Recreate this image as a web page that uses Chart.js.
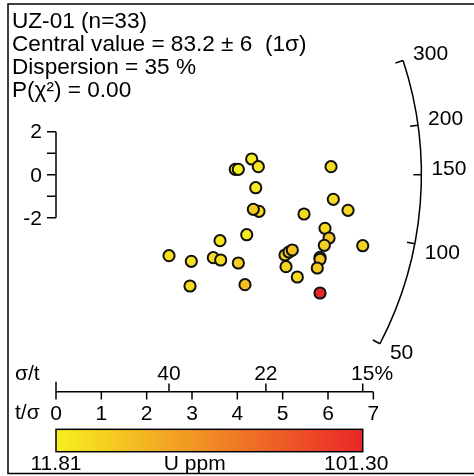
<!DOCTYPE html>
<html>
<head>
<meta charset="utf-8">
<script src="https://cdn.jsdelivr.net/npm/chart.js@4.4.1/dist/chart.umd.min.js"></script>
<style>
  html, body { margin: 0; padding: 0; background: #fff; }
  canvas { display: block; }
</style>
</head>
<body>
<canvas id="c" width="474" height="476"></canvas>
<script>
// ---- data ----
const TITLE_LINES = ['UZ-01 (n=33)', 'Central value = 83.2 \u00b1 6  (1\u03c3)', 'Dispersion = 35 %', 'P(\u03c7\u00b2) = 0.00'];
// precision t/sigma (x) and standardised estimate (y)
const T_SIGMA = [4.317, 4.463, 3.955, 4.022, 4.406, 4.478, 4.353, 4.207, 3.618, 2.493, 2.985, 3.470, 3.633, 4.022, 2.956, 4.169,
                 6.067, 6.117, 6.442, 5.471, 5.934, 6.023, 5.919, 6.766, 5.052, 5.140, 5.213, 5.824, 5.824, 5.764, 5.074, 5.323, 5.824];
const Z_STD   = [0.729, 0.372, 0.251, 0.251, -0.604, -1.700, -1.607, -2.787, -3.065, -3.762, -4.022, -3.855, -3.962, -4.101, -5.169, -5.109,
                 0.372, -1.143, -1.653, -1.825, -2.490, -2.940, -3.279, -3.298, -3.730, -3.590, -3.497, -3.837, -3.929, -4.333, -4.273, -4.751, -5.495];
const U_PPM   = [14, 16, 13, 11.81, 15, 20, 30, 15, 17, 20, 20, 22, 21, 26, 21, 33,
                 22, 21, 23, 22, 21, 32, 25, 24, 27, 28, 33, 24, 32, 29, 24, 22, 101.30];
const U_MIN = 11.81, U_MAX = 101.30;
const U_LABEL = 'U ppm';
const T_TICKS = [0, 1, 2, 3, 4, 5, 6, 7];
const Y_TICKS = [-2, -1, 0, 1, 2];
const Y_LABELS = [-2, 0, 2];
const ARC_TICKS = [300, 200, 150, 100, 50];
const REF_VALUE = 150;   // value whose radial line is horizontal

// ---- layout constants ----
const ARC_RADIUS = 8.06;      // in t/sigma units
const AXIS_Y_VALUE = -10.08;  // y-value where the bottom axis is drawn
const FONT = '"Liberation Sans", Arial, Helvetica, sans-serif';
const C0 = [247, 240, 32], C1 = [234, 38, 40];

function ramp(t) {
  t = Math.max(0, Math.min(1, t));
  const c = C0.map((v, i) => Math.round(v + (C1[i] - v) * t));
  return `rgb(${c[0]},${c[1]},${c[2]})`;
}
const pointColors = U_PPM.map(u => ramp((u - U_MIN) / (U_MAX - U_MIN)));
const points = T_SIGMA.map((x, i) => ({ x: x, y: Z_STD[i] }));

const radialPlugin = {
  id: 'radial',
  beforeDatasetsDraw(chart) {
    const ctx = chart.ctx;
    const xs = chart.scales.x, ys = chart.scales.y;
    const px0 = xs.getPixelForValue(0), py0 = ys.getPixelForValue(0);
    ctx.save();
    ctx.strokeStyle = '#000';
    ctx.fillStyle = '#000';
    ctx.lineWidth = 1.5;
    ctx.lineCap = 'butt';

    // frame
    ctx.beginPath();
    ctx.moveTo(480, 4); ctx.lineTo(8, 4); ctx.lineTo(8, 473.5); ctx.lineTo(480, 473.5);
    ctx.stroke();

    // left scale bar
    ctx.beginPath();
    ctx.moveTo(px0, ys.getPixelForValue(2)); ctx.lineTo(px0, ys.getPixelForValue(-2));
    Y_TICKS.forEach(v => {
      const y = ys.getPixelForValue(v);
      ctx.moveTo(px0, y); ctx.lineTo(px0 - 9, y);
    });
    ctx.stroke();
    ctx.font = '21px ' + FONT;
    ctx.textAlign = 'right';
    ctx.textBaseline = 'middle';
    Y_LABELS.forEach(v => ctx.fillText(String(v), px0 - 14, ys.getPixelForValue(v) + 1));

    // radial arc
    const R = xs.getPixelForValue(ARC_RADIUS) - px0;
    const zref = Math.log(REF_VALUE);
    const ang = val => {
      const dx = xs.getPixelForValue(1) - px0;
      const dy = ys.getPixelForValue(Math.log(val) - zref) - py0;
      return Math.atan2(dy, dx);
    };
    const aStart = ang(Math.max(...ARC_TICKS)), aEnd = ang(Math.min(...ARC_TICKS));
    ctx.beginPath();
    ctx.arc(px0, py0, R, aStart, aEnd, false);
    ctx.stroke();
    ctx.textAlign = 'left';
    ctx.textBaseline = 'alphabetic';
    ARC_TICKS.forEach(v => {
      const a = ang(v);
      const tx = px0 + R * Math.cos(a), ty = py0 + R * Math.sin(a);
      ctx.beginPath();
      ctx.moveTo(tx, ty);
      ctx.lineTo(px0 + (R - 8) * Math.cos(a), py0 + (R - 8) * Math.sin(a));
      ctx.stroke();
      const above = Math.log(v) >= zref - 1e-9;
      ctx.fillText(String(v), tx + 10, above ? ty : ty + 15);
    });

    // bottom axis
    const ay = ys.getPixelForValue(AXIS_Y_VALUE);
    const xmax = Math.max(...T_TICKS);
    ctx.beginPath();
    ctx.moveTo(xs.getPixelForValue(0), ay); ctx.lineTo(xs.getPixelForValue(xmax), ay);
    T_TICKS.forEach(v => {
      const x = xs.getPixelForValue(v);
      ctx.moveTo(x, ay); ctx.lineTo(x, ay + 7.7);
    });
    ctx.moveTo(xs.getPixelForValue(0), ay); ctx.lineTo(xs.getPixelForValue(0), ay - 10);
    const dmin = Math.min(...T_SIGMA), dmax = Math.max(...T_SIGMA);
    const sTicks = [dmin, (dmin + dmax) / 2, dmax];
    sTicks.forEach(v => {
      const x = xs.getPixelForValue(v);
      ctx.moveTo(x, ay); ctx.lineTo(x, ay - 8.3);
    });
    ctx.stroke();

    ctx.font = '21px ' + FONT;
    ctx.textAlign = 'center';
    ctx.textBaseline = 'alphabetic';
    T_TICKS.forEach(v => ctx.fillText(String(v), xs.getPixelForValue(v), ay + 28.5));
    sTicks.forEach((v, i) => {
      const lab = String(Math.round(100 / v));
      const x = xs.getPixelForValue(v);
      if (i === sTicks.length - 1) {
        const w = ctx.measureText(lab).width;
        ctx.textAlign = 'left';
        ctx.fillText(lab + '%', x - w / 2, ay - 11.5);
        ctx.textAlign = 'center';
      } else {
        ctx.fillText(lab, x, ay - 11.5);
      }
    });
    ctx.textAlign = 'left';
    ctx.fillText('\u03c3/t', 15, ay - 11.5);
    ctx.fillText('t/\u03c3', 15, ay + 27);

    // colour bar
    const bx0 = xs.getPixelForValue(0), bx1 = xs.getPixelForValue(dmax);
    const by0 = ay + 37.6, by1 = ay + 60;
    const g = ctx.createLinearGradient(bx0, 0, bx1, 0);
    g.addColorStop(0, ramp(0));
    g.addColorStop(0.5, ramp(0.5));
    g.addColorStop(1, ramp(1));
    ctx.fillStyle = g;
    ctx.fillRect(bx0, by0, bx1 - bx0, by1 - by0);
    ctx.strokeRect(bx0, by0, bx1 - bx0, by1 - by0);
    ctx.fillStyle = '#000';
    ctx.font = '21px ' + FONT;
    ctx.textAlign = 'center';
    ctx.fillText(U_MIN.toFixed(2), bx0, by1 + 18.5);
    ctx.fillText(U_LABEL, xs.getPixelForValue(3.06), by1 + 18.5);
    ctx.fillText(U_MAX.toFixed(2), bx1 - 6.5, by1 + 18.5);

    // title block
    ctx.font = '22.6px ' + FONT;
    ctx.textAlign = 'left';
    TITLE_LINES.forEach((t, i) => ctx.fillText(t, 12, 28.3 + i * 22.8));
    ctx.restore();
  }
};

new Chart(document.getElementById('c'), {
  type: 'scatter',
  data: {
    datasets: [{
      data: points,
      pointRadius: 5.6,
      pointHoverRadius: 5.6,
      pointBackgroundColor: pointColors,
      pointBorderColor: '#111',
      pointBorderWidth: 2,
      showLine: false
    }]
  },
  options: {
    responsive: false,
    devicePixelRatio: 1,
    animation: false,
    events: [],
    layout: { padding: { left: 56, right: 10, top: 24, bottom: 86 } },
    plugins: { legend: { display: false }, tooltip: { enabled: false }, title: { display: false } },
    scales: {
      x: { type: 'linear', min: 0, max: 9, display: false },
      y: { type: 'linear', min: -10, max: 7, display: false }
    }
  },
  plugins: [radialPlugin]
});
</script>
</body>
</html>
